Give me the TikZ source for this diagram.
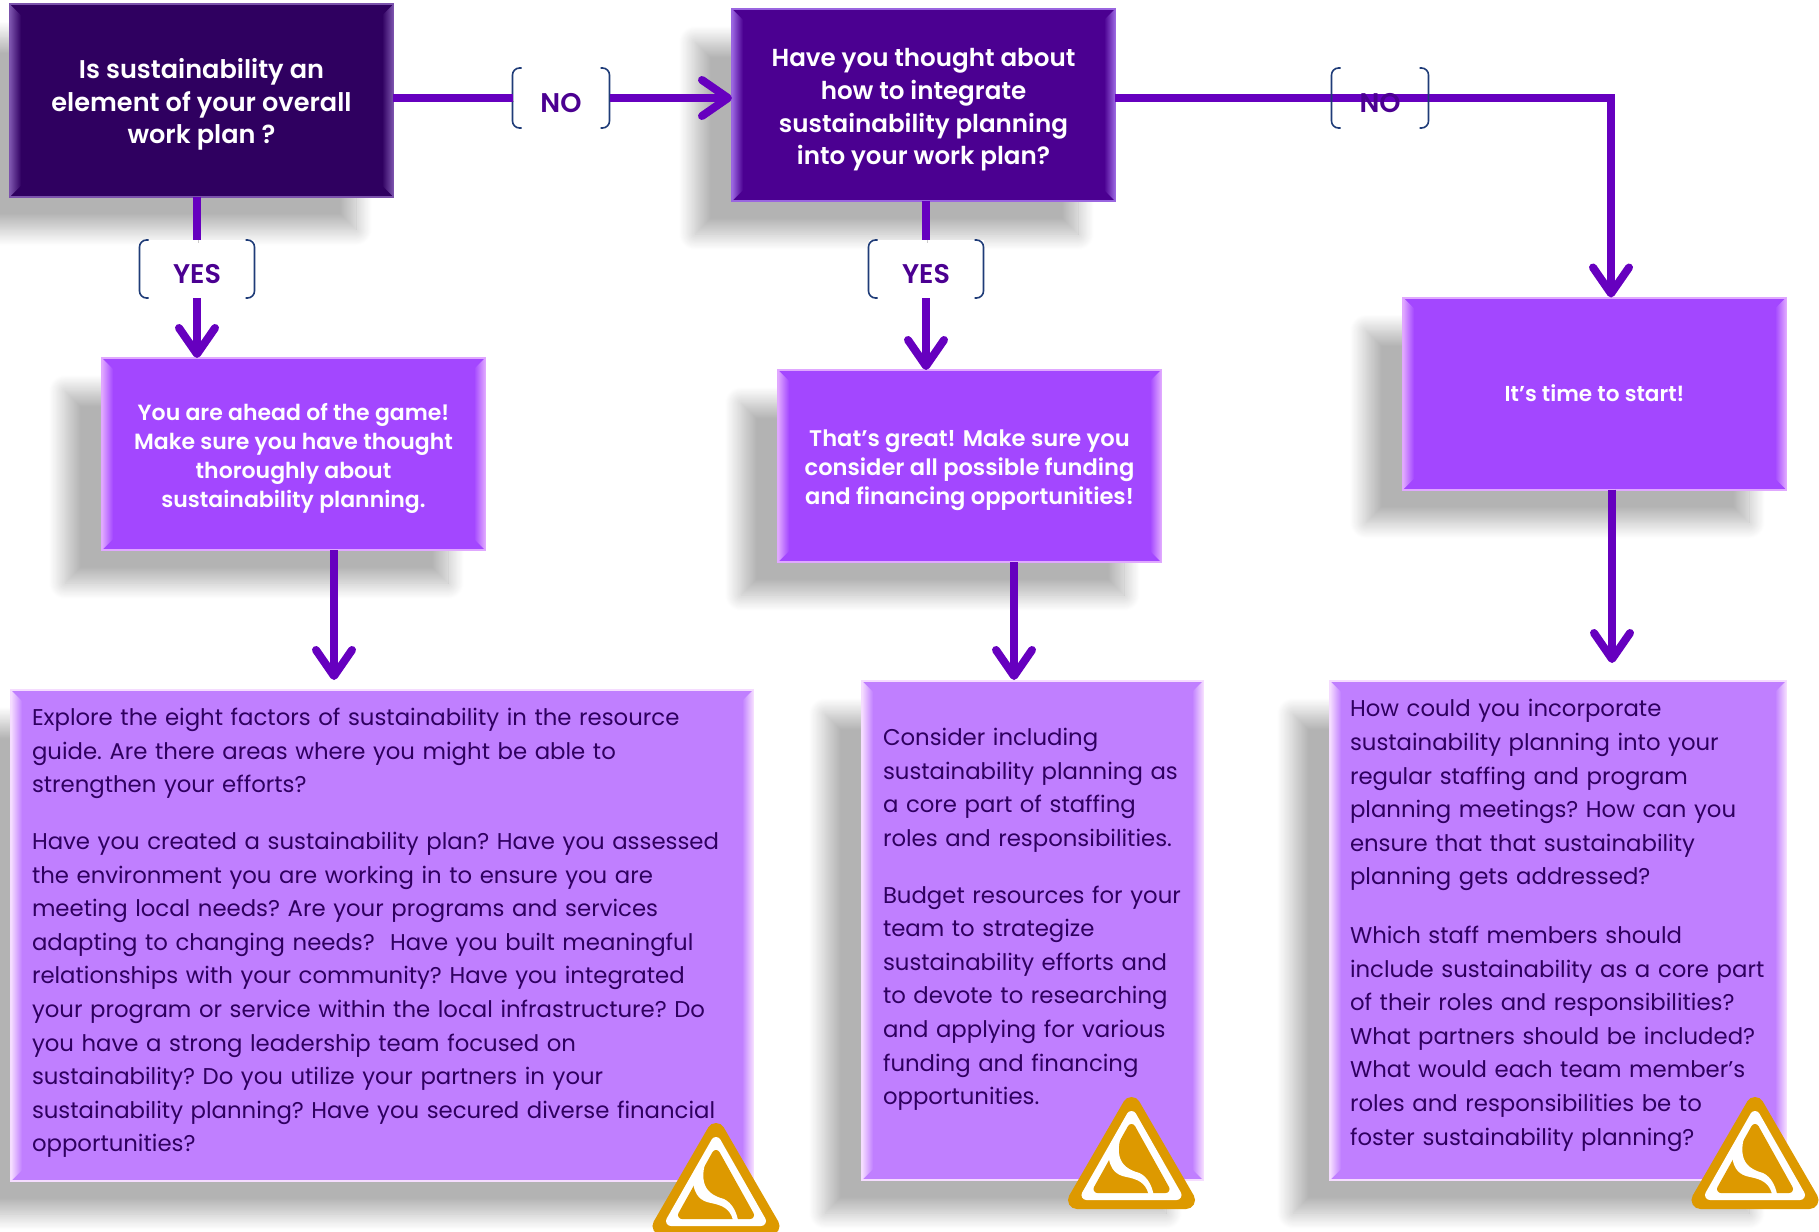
\documentclass[tikz,border=0pt]{standalone}
\usepackage{fontspec}
\setmainfont{Poppins}[BoldFont={Poppins SemiBold}]
\usetikzlibrary{arrows.meta,shadows.blur}

\definecolor{darkplum}{HTML}{2F0060}
\definecolor{darkedge}{HTML}{7B52AC}
\definecolor{deepviolet}{HTML}{4B0091}
\definecolor{deepedge}{HTML}{9A66E0}
\definecolor{brightviolet}{HTML}{A347FF}
\definecolor{brightedge}{HTML}{E0A8FF}
\definecolor{softviolet}{HTML}{C07FFF}
\definecolor{softedge}{HTML}{F5DCFF}
\definecolor{arrowviolet}{HTML}{6600BF}
\definecolor{bracketblue}{HTML}{1F3C78}
\definecolor{logogold}{HTML}{DD9900}

\newcommand\sized[2]{\bfseries\fontsize{#1}{#2}\selectfont}

\tikzset{
  boxbase/.style={outer sep=0pt,inner sep=0pt,align=center,text=white,
    blur shadow={shadow xshift=-37pt,shadow yshift=-33pt,shadow blur radius=16pt,shadow blur steps=20,shadow opacity=30}},
  toplarge/.style={boxbase,fill=#1,minimum width=383pt,minimum height=192pt},
  notebox/.style={boxbase,fill=softviolet,text=darkplum,align=left,font=\frenchspacing\fontsize{22.8}{33.6}\selectfont},
  flowline/.style={arrowviolet,line width=8pt,
    preaction={draw=black,opacity=.2,transform canvas={shift={(1pt,-3pt)}}}},
  flow/.style={flowline,-{Straight Barb[length=26pt,width=36pt,round]}},
  tag/.style={inner sep=0pt,outer sep=0pt,text=deepviolet,text height=28pt,text depth=0pt,font=\sized{27}{30}},
  tagline/.style={bracketblue,line width=1.6pt,rounded corners=7pt},
  signlogo/.pic={
    \fill[logogold,draw=logogold,line width=18pt,line join=round] (0,9) -- (-54.5,103) -- (54.5,103) -- cycle;
    \fill[white,draw=white,line width=10pt,line join=round] (0,19) -- (-45,98) -- (45,98) -- cycle;
    \fill[logogold,draw=logogold,line width=8pt,line join=round] (0,31) -- (-34,92) -- (34,92) -- cycle;
    \fill[white] (-3,24) .. controls (-12,38) and (-14,50) .. (-12,59) .. controls (-10,68) and (-3,73) .. (8,76)
      .. controls (16,80) and (20,88) .. (22,97) -- (17,97) .. controls (14,85) and (5,82) .. (-5,80)
      .. controls (-16,78) and (-21,72) .. (-23,60) -- cycle;
  }
}

\newcommand\bevel[3]{
  \draw[#3,line width=2pt] (#1.north west) rectangle (#1.south east);
  \shade[left color=#2,right color=#3] (#1.north east) -- ([shift={(-11pt,-11pt)}]#1.north east) -- ([shift={(-11pt,11pt)}]#1.south east) -- (#1.south east) -- cycle;
  \shade[left color=#3,right color=#2] (#1.north west) -- ([shift={(11pt,-11pt)}]#1.north west) -- ([shift={(11pt,11pt)}]#1.south west) -- (#1.south west) -- cycle;
}
\newcommand\brackets[1]{
  \draw[tagline] ([xshift=9pt]#1.north west) -- (#1.north west) -- (#1.south west) -- ([xshift=9pt]#1.south west);
  \draw[tagline] ([xshift=-9pt]#1.north east) -- (#1.north east) -- (#1.south east) -- ([xshift=-9pt]#1.south east);
}

\begin{document}
\begin{tikzpicture}[x=1pt,y=-1pt]
\useasboundingbox (0,0) rectangle (1819,1231);

\node[toplarge=darkplum,font=\sized{25.6}{32.5}] (overall) at (201.5,100.5) {Is sustainability an\\element of your overall\\work plan ?\\[-34pt]};
\node[toplarge=deepviolet,font=\sized{24.6}{32.8}] (integrate) at (923.5,105) {Have you thought about\\how to integrate\\sustainability planning\\into your work plan?\\[-36pt]};
\node[toplarge=brightviolet,font=\sized{22}{29}] (ahead) at (293.5,454) {You are ahead of the game!\\Make sure you have thought\\thoroughly about\\sustainability planning.\\[-31pt]};
\node[toplarge=brightviolet,font=\sized{22.6}{29}] (great) at (969.5,466) {That’s great! Make sure you\\consider all possible funding\\and financing opportunities!\\[-31pt]};
\node[toplarge=brightviolet,font=\sized{21.6}{29}] (start) at (1594.5,393.5) {It’s time to start!};

\node[notebox,minimum width=742pt,minimum height=491pt,text width=700pt] (explore) at (382,935.5) {Explore the eight factors of sustainability in the resource\\guide. Are there areas where you might be able to\\strengthen your efforts?\\[23pt]
Have you created a sustainability plan? Have you assessed\\the environment you are working in to ensure you are\\meeting local needs? Are your programs and services\\adapting to changing needs?~~Have you built meaningful\\relationships with your community? Have you integrated\\your program or service within the local infrastructure? Do\\you have a strong leadership team focused on\\sustainability? Do you utilize your partners in your\\sustainability planning? Have you secured diverse financial\\opportunities?\\[-22.6pt]\mbox{}};
\node[notebox,minimum width=341pt,minimum height=499pt,text width=299pt] (consider) at (1032.5,930.5) {Consider including\\sustainability planning as\\a core part of staffing\\roles and responsibilities.\\[23pt]
Budget~resources~for~your\\team to strategize\\sustainability efforts and\\to devote to researching\\and applying for various\\funding and financing\\opportunities.\\[-5.6pt]\mbox{}};
\node[notebox,minimum width=456pt,minimum height=499pt,text width=416pt] (incorporate) at (1558,930.5) {How could you incorporate\\sustainability planning into your\\regular staffing and program\\planning meetings? How can you\\ensure that that sustainability\\planning gets addressed?\\[25pt]
Which staff members should\\include~sustainability~as~a~core~part\\of their roles and responsibilities?\\What partners should be included?\\What would each team member’s\\roles and responsibilities be to\\foster sustainability planning?\\[-17.4pt]\mbox{}};

\bevel{overall}{darkplum}{darkedge}
\bevel{integrate}{deepviolet}{deepedge}
\bevel{ahead}{brightviolet}{brightedge}
\bevel{great}{brightviolet}{brightedge}
\bevel{start}{brightviolet}{brightedge}
\bevel{explore}{softviolet}{softedge}
\bevel{consider}{softviolet}{softedge}
\bevel{incorporate}{softviolet}{softedge}

\node[tag,fill=white,minimum width=115pt,minimum height=58pt] (yesleft) at (197,269) {YES};
\node[tag,fill=white,minimum width=115pt,minimum height=58pt] (yesmid) at (926,269) {YES};
\node[tag,fill=white,minimum width=97pt,minimum height=60pt] (noleft) at (561,98) {NO};
\brackets{yesleft}
\brackets{yesmid}
\brackets{noleft}

\coordinate (turn) at (1611,98);
\coordinate (endahead) at (334,680);
\coordinate (endgreat) at (1014,680);
\coordinate (endstart) at (1612,663);

\draw[flowline] (overall.east |- noleft) -- (noleft.west);
\draw[flow] (noleft.east) -- (integrate.west |- noleft);
\draw[flowline] (yesleft |- overall.south) -- (yesleft.north);
\draw[flow] (yesleft.south) -- (yesleft |- ahead.north);
\draw[flowline] (yesmid |- integrate.south) -- (yesmid.north);
\draw[flow] (yesmid.south) -- (yesmid |- great.north);
\draw[flow] (integrate.east |- turn) -- (turn) -- (turn |- start.north);
\draw[flow] (endahead |- ahead.south) -- (endahead);
\draw[flow] (endgreat |- great.south) -- (endgreat);
\draw[flow] (endstart |- start.south) -- (endstart);

\node[tag,minimum width=97pt,minimum height=60pt] (noright) at (1380,98) {NO};
\brackets{noright}

\pic at (716,1123) {signlogo};
\pic at (1131.5,1097) {signlogo};
\pic at (1755,1097) {signlogo};
\end{tikzpicture}
\end{document}
